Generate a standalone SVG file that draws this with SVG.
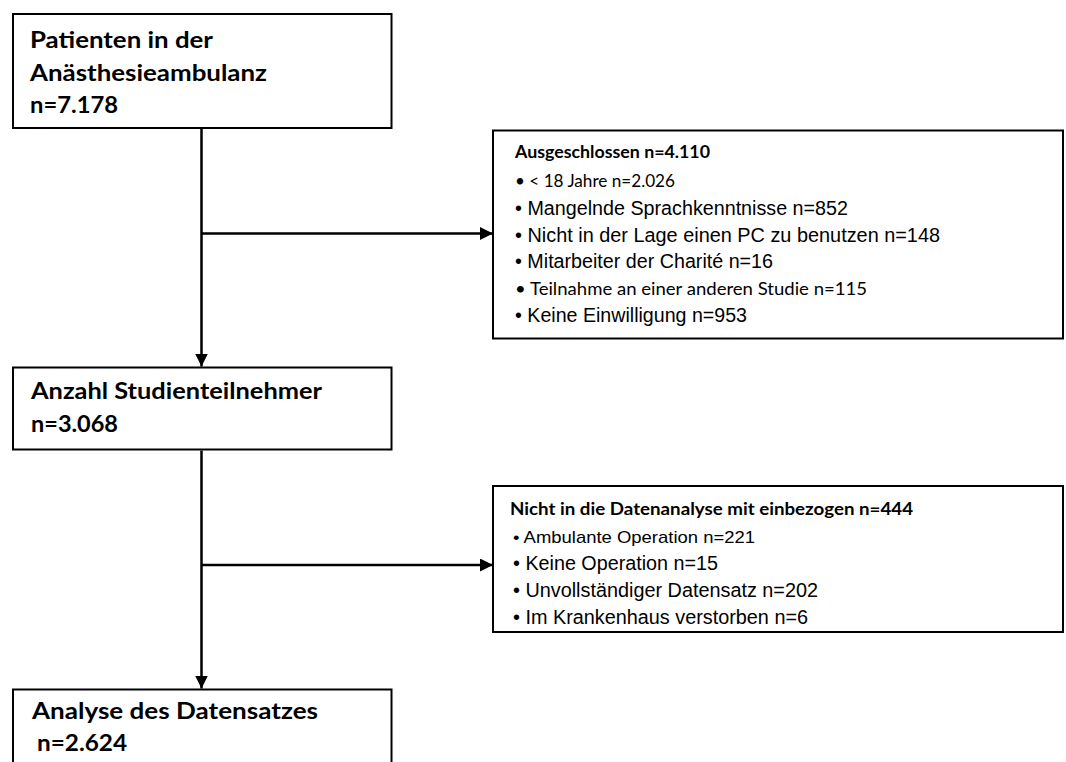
<svg xmlns="http://www.w3.org/2000/svg" width="1066" height="762" viewBox="0 0 1066 762">
<style>
.box{fill:#fff;stroke:#000;stroke-width:2}
.ln{fill:none;stroke:#000;stroke-width:2.5}
.tb{font-family:Lato,"Open Sans","Liberation Sans",sans-serif;font-weight:bold;font-size:22px;fill:#000}
.hb{font-family:Lato,"Open Sans","Liberation Sans",sans-serif;font-weight:bold;font-size:16.5px;fill:#000}
.c{font-family:Lato,"Open Sans","Liberation Sans",sans-serif;font-size:17px;fill:#000}
.a{font-family:"Liberation Sans",Arial,sans-serif;font-size:20px;fill:#000}
.as{font-family:"Liberation Sans",Arial,sans-serif;font-size:17px;fill:#000}
</style>
<defs>
<marker id="ah" viewBox="0 0 13 13" refX="13" refY="6.5" markerWidth="13" markerHeight="13" markerUnits="userSpaceOnUse" orient="auto">
<path d="M0,0 L13,6.5 L0,13 z" fill="#000"/>
</marker>
</defs>
<rect width="1066" height="762" fill="#fff"/>
<g id="connectors">
<line class="ln" x1="201.5" y1="129" x2="201.5" y2="366.5" marker-end="url(#ah)"/>
<line class="ln" x1="201.5" y1="233.5" x2="493" y2="233.5" marker-end="url(#ah)"/>
<line class="ln" x1="201.5" y1="450.5" x2="201.5" y2="688.5" marker-end="url(#ah)"/>
<line class="ln" x1="201.5" y1="565" x2="493" y2="565" marker-end="url(#ah)"/>
</g>
<g id="node-patienten">
<rect class="box" x="13" y="14" width="378.5" height="114"/>
<text class="tb" x="30" y="48" textLength="183" lengthAdjust="spacingAndGlyphs">Patienten in der</text>
<text class="tb" x="30" y="81" textLength="237" lengthAdjust="spacingAndGlyphs">Anästhesieambulanz</text>
<text class="tb" x="30" y="113" textLength="88" lengthAdjust="spacingAndGlyphs">n=7.178</text>
</g>
<g id="node-ausgeschlossen">
<rect class="box" x="493" y="130.5" width="570" height="208"/>
<text class="hb" x="515" y="158" textLength="195" lengthAdjust="spacingAndGlyphs">Ausgeschlossen n=4.110</text>
<text class="c" x="515" y="187" textLength="160" lengthAdjust="spacingAndGlyphs">• &lt; 18 Jahre n=2.026</text>
<text class="a" x="515" y="215" textLength="333" lengthAdjust="spacingAndGlyphs">• Mangelnde Sprachkenntnisse n=852</text>
<text class="a" x="515" y="242" textLength="425" lengthAdjust="spacingAndGlyphs">• Nicht in der Lage einen PC zu benutzen n=148</text>
<text class="a" x="515" y="268" textLength="258" lengthAdjust="spacingAndGlyphs">• Mitarbeiter der Charité n=16</text>
<text class="c" x="515" y="295" textLength="352" lengthAdjust="spacingAndGlyphs">• Teilnahme an einer anderen Studie n=115</text>
<text class="a" x="515" y="322" textLength="232" lengthAdjust="spacingAndGlyphs">• Keine Einwilligung n=953</text>
</g>
<g id="node-studienteilnehmer">
<rect class="box" x="13" y="367.5" width="378.5" height="82"/>
<text class="tb" x="31" y="399" textLength="291" lengthAdjust="spacingAndGlyphs">Anzahl Studienteilnehmer</text>
<text class="tb" x="31" y="432" textLength="87" lengthAdjust="spacingAndGlyphs">n=3.068</text>
</g>
<g id="node-nicht-einbezogen">
<rect class="box" x="493" y="486" width="570" height="146"/>
<text class="hb" x="510" y="515" textLength="403" lengthAdjust="spacingAndGlyphs">Nicht in die Datenanalyse mit einbezogen n=444</text>
<text class="as" x="513" y="543" textLength="242" lengthAdjust="spacingAndGlyphs">• Ambulante Operation n=221</text>
<text class="a" x="513" y="570" textLength="205" lengthAdjust="spacingAndGlyphs">• Keine Operation n=15</text>
<text class="a" x="513" y="597" textLength="305" lengthAdjust="spacingAndGlyphs">• Unvollständiger Datensatz n=202</text>
<text class="a" x="513" y="624" textLength="295" lengthAdjust="spacingAndGlyphs">• Im Krankenhaus verstorben n=6</text>
</g>
<g id="node-analyse">
<rect class="box" x="13" y="689.5" width="378.5" height="90"/>
<text class="tb" x="32" y="719" textLength="286" lengthAdjust="spacingAndGlyphs">Analyse des Datensatzes</text>
<text class="tb" x="37" y="751" textLength="90" lengthAdjust="spacingAndGlyphs">n=2.624</text>
</g>
</svg>
